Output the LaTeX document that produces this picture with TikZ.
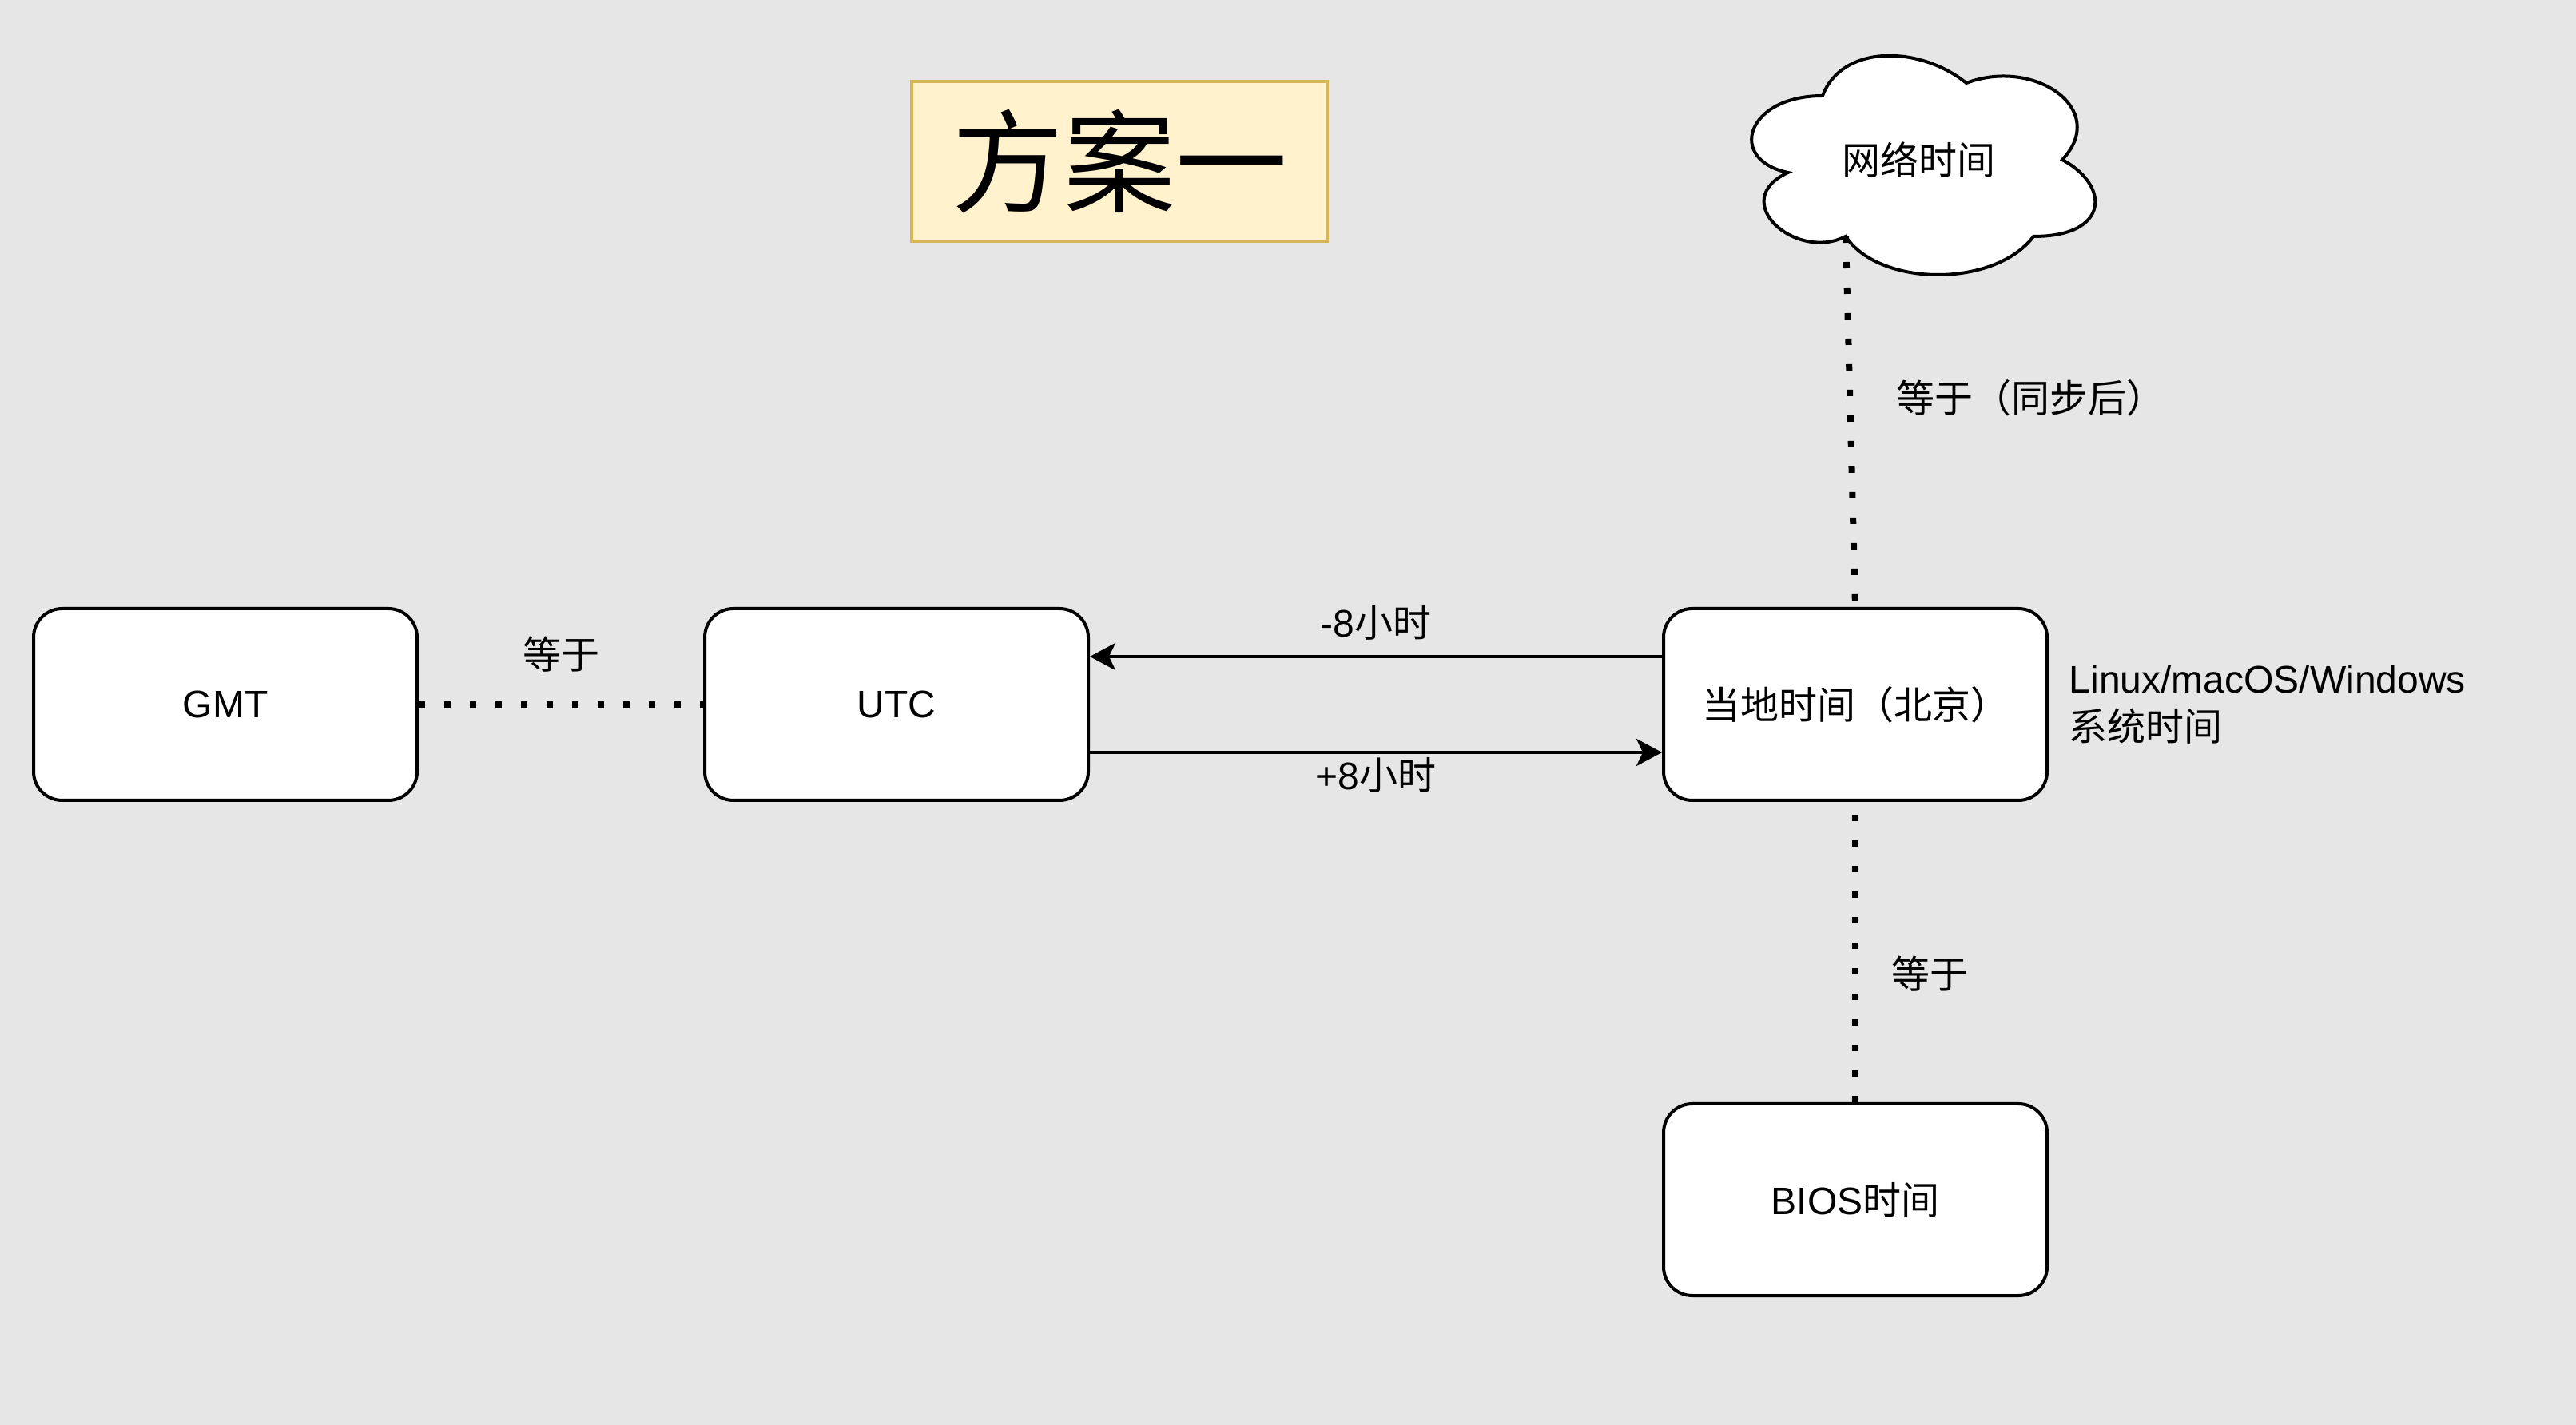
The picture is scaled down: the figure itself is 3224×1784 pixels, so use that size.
\documentclass[tikz,border=0pt]{standalone}
\usepackage{fontspec}
\setmainfont{Liberation Sans}
\newfontfamily\cjk{Noto Sans CJK SC}
\newcommand{\cj}[1]{{\cjk #1}}
\usetikzlibrary{arrows.meta}
\definecolor{bgcol}{HTML}{E6E6E6}
\definecolor{titlefill}{HTML}{FFF2CC}
\definecolor{titledraw}{HTML}{D6B656}
\begin{document}
\begin{tikzpicture}[x=0.25pt,y=-0.25pt,
  box/.style={draw=black, line width=1pt, fill=white, rounded corners=9pt,
    minimum width=120pt, minimum height=60pt, inner sep=0pt,
    font=\fontsize{12}{15}\selectfont},
  lbl/.style={inner sep=0pt, font=\fontsize{12}{15}\selectfont},
  dotline/.style={line width=2pt, dash pattern=on 2pt off 6pt},
  arr/.style={line width=1pt, -{Stealth[length=8pt,width=8.5pt,inset=2pt]}}]
\fill[bgcol] (0,0) rectangle (3224,1784);
\useasboundingbox (0,0) rectangle (3224,1784);

% title
\node[draw=titledraw, fill=titlefill, line width=1pt, minimum width=130pt,
  minimum height=50pt, inner sep=0pt, font=\cjk\fontsize{35}{40}\selectfont]
  (title) at (1401,202) {方案一};

% cloud
\draw[line width=1pt, fill=white]
  (2281,120) .. controls (2185,120) and (2161,200) .. (2237.8,216)
  .. controls (2161,251.2) and (2247.4,328) .. (2309.8,296)
  .. controls (2353,360) and (2497,360) .. (2545,296)
  .. controls (2641,296) and (2641,232) .. (2581,200)
  .. controls (2641,136) and (2545,72) .. (2461,104)
  .. controls (2401,56) and (2305,56) .. (2281,120) -- cycle;
\node[lbl] (net) at (2401,200) {\cj{网络时间}};
\coordinate (cloudtip) at (2310,296);

% boxes
\node[box] (gmt) at (282,882) {GMT};
\node[box] (utc) at (1122,882) {UTC};
\node[box] (loc) at (2322,882) {\cj{当地时间（北京）}};
\node[box] (bios) at (2322,1502) {BIOS\cj{时间}};

% connectors
\draw[dotline] (gmt) -- (utc) node[midway, lbl, yshift=15.75pt] {\cj{等于}};
\draw[arr] ([yshift=15pt]loc.west) -- ([yshift=15pt]utc.east)
  node[midway, lbl, yshift=10.75pt] {-8\cj{小时}};
\draw[arr] ([yshift=-15pt]utc.east) -- ([yshift=-15pt]loc.west)
  node[midway, lbl, yshift=-7pt] {+8\cj{小时}};
\draw[dotline] (cloudtip) -- (loc.north)
  node[pos=0.437, lbl, anchor=west, xshift=13.5pt] {\cj{等于（同步后）}};
\draw[dotline] (bios) -- (loc)
  node[pos=0.428, lbl, anchor=west, xshift=10.25pt] {\cj{等于}};

\node[lbl, anchor=west, align=left, xshift=6.25pt] (sys) at (loc.east)
  {Linux/macOS/Windows\\\cj{系统时间}};
\end{tikzpicture}
\end{document}
